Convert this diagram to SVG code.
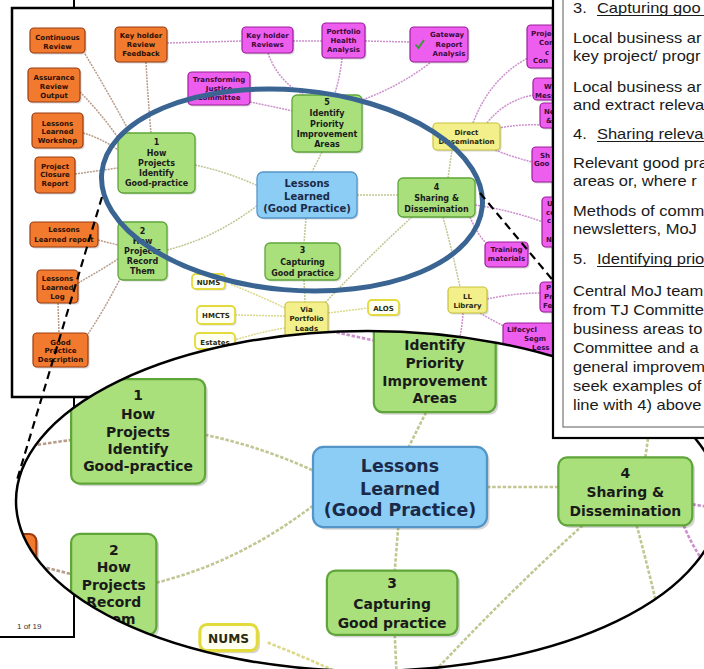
<svg xmlns="http://www.w3.org/2000/svg" xmlns:xlink="http://www.w3.org/1999/xlink" width="704" height="669" viewBox="0 0 704 669">
<style>
.nt{font-family:"DejaVu Sans",Verdana,sans-serif;font-weight:bold;text-anchor:middle}
.ns{font-family:"DejaVu Sans",Verdana,sans-serif;font-weight:bold;text-anchor:start}
.s7{font-size:7px}.s8{font-size:8px}.s10{font-size:10px}
.sh{fill:#000;opacity:.16}
.o{fill:#F27A2E;stroke:#9A3C12;stroke-width:1.2}
.m{fill:#EE5EEE;stroke:#9A1E9A;stroke-width:1.2}
.g{fill:#A9E07B;stroke:#5FA53A;stroke-width:1.3}
.bl{fill:#8CCDF6;stroke:#5495C8;stroke-width:1.3}
.y{fill:#F3F08C;stroke:#C8C23A;stroke-width:1.2}
.w{fill:#FFFFF2;stroke:#E3DA3C;stroke-width:1.8}
.to{fill:#2a1005}.tm{fill:#3a0a3a}.tg{fill:#1a1a1a}.tb{fill:#1a2a48}.ty{fill:#2a2a10}
.c{fill:none;stroke-width:1.5;stroke-dasharray:2 1}
.co{stroke:#B89C8A}.cm{stroke:#CC90CC}.cg{stroke:#C2C692}.cy{stroke:#DCD88A}
.pt{font-family:"Liberation Sans",Arial,sans-serif;font-size:14px;fill:#1a1a1a}
.dash{fill:none;stroke:#000;stroke-width:2.2;stroke-dasharray:8 5}
</style>
<defs>
<clipPath id="pageClip"><rect x="12" y="8" width="541" height="389"/></clipPath>
<clipPath id="bigClip"><ellipse cx="368" cy="501" rx="352" ry="170"/></clipPath>
<g id="map">
 <g id="connectors">
  <path class="c co" d="M85,54 Q108,92 130,133"/>
  <path class="c co" d="M80,92 Q100,112 119,139"/>
  <path class="c co" d="M83,133 Q101,138 118,150"/>
  <path class="c co" d="M75,174 L118,168"/>
  <path class="c co" d="M146,62 Q148,100 151,133"/>
  <path class="c co" d="M98,240 L118,245"/>
  <path class="c co" d="M78,283 Q98,272 118,259"/>
  <path class="c co" d="M88,334 Q104,310 120,279"/>
  <path class="c co" d="M58,303 L59,333"/>
  <path class="c cm" d="M167,43 L242,41"/>
  <path class="c cm" d="M293,41 L322,41"/>
  <path class="c cm" d="M365,41 L410,42"/>
  <path class="c cm" d="M268,53 Q278,82 306,96"/>
  <path class="c cm" d="M342,58 Q340,78 334,96"/>
  <path class="c cm" d="M250,102 Q270,106 293,111"/>
  <path class="c cm" d="M430,63 Q400,86 362,100"/>
  <path class="c cm" d="M473,123 Q490,78 528,58"/>
  <path class="c cm" d="M487,123 Q505,100 534,95"/>
  <path class="c cm" d="M498,128 Q520,124 541,125"/>
  <path class="c cm" d="M495,150 Q515,158 533,162"/>
  <path class="c cm" d="M475,205 Q510,210 543,222"/>
  <path class="c cm" d="M470,217 Q478,236 488,245"/>
  <path class="c cm" d="M487,299 Q515,293 541,293"/>
  <path class="c cm" d="M480,313 Q495,322 508,328"/>
  <path class="c cm" d="M463,313 Q462,330 458,345"/>
  <path class="c cm" d="M327,331 Q350,336 378,341"/>
  <path class="c cg" d="M322,152 L312,172"/>
  <path class="c cg" d="M195,165 Q228,172 258,186"/>
  <path class="c cg" d="M167,250 Q215,238 258,205"/>
  <path class="c cg" d="M306,218 L304,243"/>
  <path class="c cg" d="M357,195 L398,195"/>
  <path class="c cg" d="M448,178 L452,150"/>
  <path class="c cg" d="M412,217 Q370,255 325,303"/>
  <path class="c cg" d="M443,217 Q452,250 460,287"/>
  <path class="c cg" d="M304,280 L305,302"/>
  <path class="c cy" d="M328,313 L368,308"/>
  <path class="c cy" d="M285,316 L235,315"/>
  <path class="c cy" d="M285,308 Q258,295 230,284"/>
  <path class="c cy" d="M285,328 Q260,332 235,340"/>
 </g>
 <g id="n-continuous-review"><rect class="sh" x="31.5" y="29.5" width="55" height="25" rx="4"/><rect class="o" x="30" y="28" width="55" height="25" rx="4"/><text class="nt s7 to"><tspan x="57.5" y="40">Continuous</tspan><tspan x="57.5" y="48.5">Review</tspan></text></g>
 <g id="n-assurance"><rect class="sh" x="29.5" y="69.5" width="52" height="34" rx="4"/><rect class="o" x="28" y="68" width="52" height="34" rx="4"/><text class="nt s7 to"><tspan x="54" y="79.5">Assurance</tspan><tspan x="54" y="88.5">Review</tspan><tspan x="54" y="97.5">Output</tspan></text></g>
 <g id="n-ll-workshop"><rect class="sh" x="33.5" y="114.5" width="51" height="35" rx="4"/><rect class="o" x="32" y="113" width="51" height="35" rx="4"/><text class="nt s7 to"><tspan x="57.5" y="125.5">Lessons</tspan><tspan x="57.5" y="134">Learned</tspan><tspan x="57.5" y="142.5">Workshop</tspan></text></g>
 <g id="n-closure"><rect class="sh" x="36.5" y="158.5" width="40" height="36" rx="4"/><rect class="o" x="35" y="157" width="40" height="36" rx="4"/><text class="nt s7 to"><tspan x="55" y="168.5">Project</tspan><tspan x="55" y="177">Closure</tspan><tspan x="55" y="185.5">Report</tspan></text></g>
 <g id="n-kh-feedback"><rect class="sh" x="116.5" y="28.5" width="52" height="35" rx="4"/><rect class="o" x="115" y="27" width="52" height="35" rx="4"/><text class="nt s7 to"><tspan x="141" y="37.5">Key holder</tspan><tspan x="141" y="46.5">Review</tspan><tspan x="141" y="55.5">Feedback</tspan></text></g>
 <g id="n-ll-report"><rect class="sh" x="31.5" y="223.5" width="68" height="25" rx="4"/><rect class="o" x="30" y="222" width="68" height="25" rx="4"/><text class="nt s7 to"><tspan x="64" y="231.5">Lessons</tspan><tspan x="64" y="241.5">Learned report</tspan></text></g>
 <g id="n-ll-log"><rect class="sh" x="38.5" y="271.5" width="41" height="33" rx="4"/><rect class="o" x="37" y="270" width="41" height="33" rx="4"/><text class="nt s7 to"><tspan x="57.5" y="280.5">Lessons</tspan><tspan x="57.5" y="289.5">Learned</tspan><tspan x="57.5" y="298.5">Log</tspan></text></g>
 <g id="n-gp-desc"><rect class="sh" x="34.5" y="334.5" width="55" height="34" rx="4"/><rect class="o" x="33" y="333" width="55" height="34" rx="4"/><text class="nt s7 to"><tspan x="60.5" y="344.5">Good</tspan><tspan x="60.5" y="353">Practice</tspan><tspan x="60.5" y="361.5">Description</tspan></text></g>
 <g id="n-tj-committee"><rect class="sh" x="189.5" y="73.5" width="62" height="33" rx="4"/><rect class="m" x="188" y="72" width="62" height="33" rx="4"/><text class="nt s7 tm"><tspan x="219" y="81.5">Transforming</tspan><tspan x="219" y="90.5">Justice</tspan><tspan x="219" y="99.5">Committee</tspan></text></g>
 <g id="n-kh-reviews"><rect class="sh" x="243.5" y="28.5" width="51" height="26" rx="4"/><rect class="m" x="242" y="27" width="51" height="26" rx="4"/><text class="nt s7 tm"><tspan x="267.5" y="37.5">Key holder</tspan><tspan x="267.5" y="46.5">Reviews</tspan></text></g>
 <g id="n-portfolio-health"><rect class="sh" x="323.5" y="24.5" width="43" height="35" rx="4"/><rect class="m" x="322" y="23" width="43" height="35" rx="4"/><text class="nt s7 tm"><tspan x="343.5" y="33.5">Portfolio</tspan><tspan x="343.5" y="42.5">Health</tspan><tspan x="343.5" y="51.5">Analysis</tspan></text></g>
 <g id="n-gateway"><rect class="sh" x="411.5" y="28.5" width="58" height="35" rx="4"/><rect class="m" x="410" y="27" width="58" height="35" rx="4"/><path d="M415.5,44.5 L418.5,48 L424,40" fill="none" stroke="#2f9a2f" stroke-width="1.8"/><text class="nt s7 tm"><tspan x="447" y="36.5">Gateway</tspan><tspan x="449" y="46.5">Report</tspan><tspan x="449" y="55.5">Analysis</tspan></text></g>
 <g id="n-project-con"><rect class="sh" x="528.5" y="26.5" width="40" height="43" rx="4"/><rect class="m" x="527" y="25" width="40" height="43" rx="4"/><text class="ns s7 tm"><tspan x="531" y="35.5">Projec</tspan><tspan x="539" y="45">Con</tspan><tspan x="545" y="54.5">c</tspan><tspan x="533" y="63">Con</tspan></text></g>
 <g id="n-wm"><rect class="sh" x="534.5" y="79.5" width="30" height="22" rx="4"/><rect class="m" x="533" y="78" width="30" height="22" rx="4"/><text class="ns s7 tm"><tspan x="544" y="89">Wi</tspan><tspan x="535" y="97.5">Mess</tspan></text></g>
 <g id="n-ne"><rect class="sh" x="541.5" y="104.5" width="22" height="25" rx="4"/><rect class="m" x="540" y="103" width="22" height="25" rx="4"/><text class="ns s7 tm"><tspan x="544" y="114">Ne</tspan><tspan x="546" y="122.5">&amp;</tspan></text></g>
 <g id="n-sg"><rect class="sh" x="533.5" y="148.5" width="30" height="35" rx="4"/><rect class="m" x="532" y="147" width="30" height="35" rx="4"/><text class="ns s7 tm"><tspan x="540" y="157.5">Sh</tspan><tspan x="534" y="166">Goo</tspan></text></g>
 <g id="n-uc"><rect class="sh" x="543.5" y="198.5" width="20" height="50" rx="4"/><rect class="m" x="542" y="197" width="20" height="50" rx="4"/><text class="ns s7 tm"><tspan x="547" y="205.5">U</tspan><tspan x="546" y="215">co</tspan><tspan x="547" y="223">c</tspan><tspan x="546" y="242">N</tspan></text></g>
 <g id="n-training"><rect class="sh" x="486.5" y="243.5" width="43" height="25" rx="4"/><rect class="m" x="485" y="242" width="43" height="25" rx="4"/><text class="nt s7 tm"><tspan x="506.5" y="252">Training</tspan><tspan x="506.5" y="261">materials</tspan></text></g>
 <g id="n-pf"><rect class="sh" x="541.5" y="283.5" width="20" height="30" rx="4"/><rect class="m" x="540" y="282" width="20" height="30" rx="4"/><text class="ns s7 tm"><tspan x="546" y="290">P</tspan><tspan x="544" y="299">Pr</tspan><tspan x="543" y="308">Fe</tspan></text></g>
 <g id="n-lifecycle"><rect class="sh" x="504.5" y="324.5" width="55" height="32" rx="4"/><rect class="m" x="503" y="323" width="55" height="32" rx="4"/><text class="ns s7 tm"><tspan x="507" y="332">Lifecycl</tspan><tspan x="524" y="341">Segm</tspan><tspan x="532" y="350">Less</tspan></text></g>
 <g id="n-direct"><rect class="sh" x="434.5" y="124.5" width="67" height="27" rx="4"/><rect class="y" x="433" y="123" width="67" height="27" rx="4"/><text class="nt s7 ty"><tspan x="466.5" y="134.5">Direct</tspan><tspan x="466.5" y="143.5">Dissemination</tspan></text></g>
 <g id="n-library"><rect class="sh" x="449.5" y="288.5" width="39" height="26" rx="4"/><rect class="y" x="448" y="287" width="39" height="26" rx="4"/><text class="nt s7 ty"><tspan x="467.5" y="298.5">LL</tspan><tspan x="467.5" y="307.5">Library</tspan></text></g>
 <g id="n-via"><rect class="sh" x="286.5" y="303.5" width="43" height="38" rx="4"/><rect class="y" x="285" y="302" width="43" height="38" rx="4"/><text class="nt s7 ty"><tspan x="306.5" y="311.5">Via</tspan><tspan x="306.5" y="321">Portfolio</tspan><tspan x="306.5" y="330.5">Leads</tspan></text></g>
 <g id="n-alos"><rect class="sh" x="369.5" y="301.5" width="31" height="15" rx="4"/><rect class="w" x="368" y="300" width="31" height="15" rx="4"/><text class="nt s7 ty" x="383.5" y="310.5">ALOS</text></g>
 <g id="n-hmcts"><rect class="sh" x="198.5" y="307.5" width="38" height="18" rx="4"/><rect class="w" x="197" y="306" width="38" height="18" rx="4"/><text class="nt s7 ty" x="216" y="317.5">HMCTS</text></g>
 <g id="n-estates"><rect class="sh" x="196.5" y="334.5" width="40" height="16" rx="4"/><rect class="w" x="195" y="333" width="40" height="16" rx="4"/><text class="nt s7 ty" x="215" y="344.5">Estates</text></g>
 <g id="n-nums"><rect class="sh" x="193.5" y="275.5" width="33" height="15" rx="4"/><rect class="w" x="192" y="274" width="33" height="15" rx="4"/><text class="nt s7 ty" x="208.5" y="284.5">NUMS</text></g>
 <g id="n1"><rect class="sh" x="119.5" y="134.5" width="77" height="60" rx="5"/><rect class="g" x="118" y="133" width="77" height="60" rx="5"/><text class="nt s8 tg"><tspan x="156.5" y="145">1</tspan><tspan x="156.5" y="156">How</tspan><tspan x="156.5" y="166">Projects</tspan><tspan x="156.5" y="176">Identify</tspan><tspan x="156.5" y="186">Good-practice</tspan></text></g>
 <g id="n2"><rect class="sh" x="119.5" y="223.5" width="49" height="58" rx="5"/><rect class="g" x="118" y="222" width="49" height="58" rx="5"/><text class="nt s8 tg"><tspan x="142.5" y="234">2</tspan><tspan x="142.5" y="244">How</tspan><tspan x="142.5" y="254">Projects</tspan><tspan x="142.5" y="264">Record</tspan><tspan x="142.5" y="274">Them</tspan></text></g>
 <g id="n5"><rect class="sh" x="293.5" y="96.5" width="70" height="57" rx="5"/><rect class="g" x="292" y="95" width="70" height="57" rx="5"/><text class="nt s8 tg"><tspan x="327" y="105">5</tspan><tspan x="327" y="116">Identify</tspan><tspan x="327" y="126.5">Priority</tspan><tspan x="327" y="137">Improvement</tspan><tspan x="327" y="147">Areas</tspan></text></g>
 <g id="n3"><rect class="sh" x="266.5" y="244.5" width="75" height="37" rx="5"/><rect class="g" x="265" y="243" width="75" height="37" rx="5"/><text class="nt s8 tg"><tspan x="302.5" y="253">3</tspan><tspan x="302.5" y="265">Capturing</tspan><tspan x="302.5" y="276">Good practice</tspan></text></g>
 <g id="n4"><rect class="sh" x="399.5" y="179.5" width="77" height="39" rx="5"/><rect class="g" x="398" y="178" width="77" height="39" rx="5"/><text class="nt s8 tg"><tspan x="436.5" y="190">4</tspan><tspan x="436.5" y="201">Sharing &amp;</tspan><tspan x="436.5" y="211.5">Dissemination</tspan></text></g>
 <g id="n-center"><rect class="sh" x="258.5" y="173.5" width="100" height="46" rx="6"/><rect class="bl" x="257" y="172" width="100" height="46" rx="6"/><text class="nt s10 tb"><tspan x="307" y="186.5">Lessons</tspan><tspan x="307" y="199.5">Learned</tspan><tspan x="307" y="211.5">(Good Practice)</tspan></text></g>
</g>
</defs>

<rect x="0" y="0" width="704" height="669" fill="#fff"/>
<g id="back-page">
 <rect x="-10" y="-10" width="84" height="647" fill="#fff" stroke="#000" stroke-width="2"/>
 <text x="17" y="629" font-family="Liberation Sans, Arial, sans-serif" font-size="8" fill="#333">1 of 19</text>
</g>
<g id="front-page">
 <rect x="12" y="8" width="541" height="389" fill="#fff" stroke="#000" stroke-width="2.5"/>
 <g clip-path="url(#pageClip)"><use xlink:href="#map" href="#map"/></g>
</g>
<ellipse id="highlight" cx="292" cy="190" rx="191" ry="100" transform="rotate(5 292 190)" fill="none" stroke="#3A6593" stroke-width="5"/>
<g id="zoom-lines">
 <line class="dash" x1="102" y1="197" x2="17" y2="480"/>
 <line class="dash" x1="480" y1="193" x2="692" y2="447"/>
</g>
<g id="magnified">
 <ellipse cx="368" cy="501" rx="352" ry="170" fill="#fff"/>
 <g clip-path="url(#bigClip)"><use xlink:href="#map" href="#map" transform="translate(-134.2,147.7) scale(1.74)"/></g>
 <ellipse cx="368" cy="501" rx="352" ry="170" fill="none" stroke="#000" stroke-width="2.5"/>
</g>
<g id="panel">
 <rect x="553" y="-5" width="160" height="443" fill="#fff" stroke="#000" stroke-width="2.2"/>
 <rect x="563" y="-5" width="150" height="432" fill="none" stroke="#777" stroke-width="1.2"/>
 <g transform="translate(573,0) scale(1.18,1)" class="pt">
  <text class="pt" x="0" y="13">3.</text><text class="pt" x="20.3" y="13">Capturing goo</text>
  <text class="pt" x="0" y="43">Local business ar</text>
  <text class="pt" x="0" y="61">key project/ progr</text>
  <text class="pt" x="0" y="92">Local business ar</text>
  <text class="pt" x="0" y="110">and extract releva</text>
  <text class="pt" x="0" y="139">4.</text><text class="pt" x="20.3" y="139">Sharing releva</text>
  <text class="pt" x="0" y="168">Relevant good pra</text>
  <text class="pt" x="0" y="186">areas or, where r</text>
  <text class="pt" x="0" y="216">Methods of comm</text>
  <text class="pt" x="0" y="234">newsletters, MoJ</text>
  <text class="pt" x="0" y="264">5.</text><text class="pt" x="20.3" y="264">Identifying prio</text>
  <text class="pt" x="0" y="296">Central MoJ team</text>
  <text class="pt" x="0" y="315">from TJ Committe</text>
  <text class="pt" x="0" y="334">business areas to</text>
  <text class="pt" x="0" y="353">Committee and a</text>
  <text class="pt" x="0" y="372">general improvem</text>
  <text class="pt" x="0" y="391">seek examples of</text>
  <text class="pt" x="0" y="410">line with 4) above</text>
 </g>
 <line x1="597" y1="15.5" x2="704" y2="15.5" stroke="#1a1a1a" stroke-width="1"/>
 <line x1="597" y1="141.5" x2="704" y2="141.5" stroke="#1a1a1a" stroke-width="1"/>
 <line x1="597" y1="266.5" x2="704" y2="266.5" stroke="#1a1a1a" stroke-width="1"/>
</g>
</svg>
